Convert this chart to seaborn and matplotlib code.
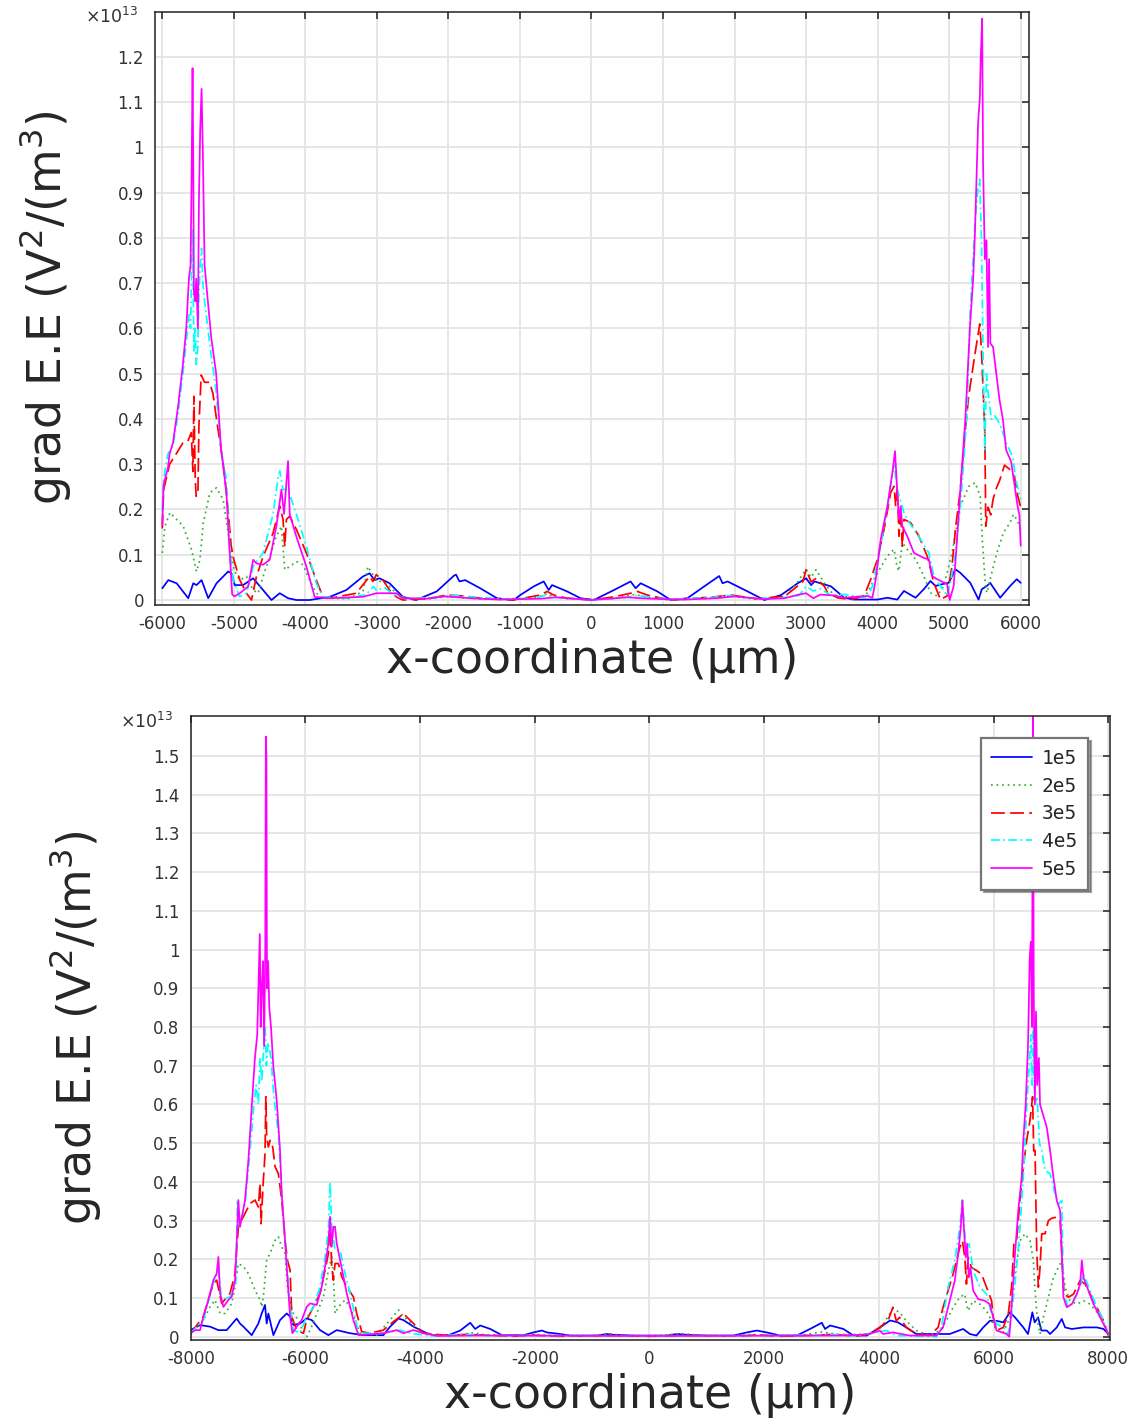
import matplotlib
matplotlib.use("Agg")
import matplotlib.pyplot as plt
import numpy as np
import seaborn as sns
from matplotlib.ticker import FuncFormatter, MultipleLocator, FixedLocator

# values in units of 1e13 V^2/m^3, x in um
labels = ["1e5", "2e5", "3e5", "4e5", "5e5"]
colors = ["#0000ff", "#33b033", "#ff0000", "#00ffff", "#ff00ff"]
styles = ["-", (0, (1, 2.2)), (0, (8, 3)), (0, (5, 2, 1, 2)), "-"]

# ---- top panel (domain -6000..6000) ----
top_1e5 = [(-6000, 0.026), (-5916, 0.044), (-5800, 0.037), (-5637, 0.004), (-5567, 0.037), (-5521, 0.033),
           (-5451, 0.044), (-5358, 0.004), (-5242, 0.037), (-5079, 0.063), (-5033, 0.059), (-4986, 0.033),
           (-4870, 0.033), (-4730, 0.048), (-4591, 0.022), (-4474, 0.0), (-4358, 0.015), (-4242, 0.004),
           (-4126, 0.0), (-3940, 0.0), (-3660, 0.007), (-3428, 0.022), (-3195, 0.052), (-3102, 0.059),
           (-3033, 0.044), (-2963, 0.048), (-2823, 0.037), (-2637, 0.007), (-2451, 0.0), (-2164, 0.019),
           (-1921, 0.054), (-1893, 0.056), (-1846, 0.041), (-1766, 0.044), (-1556, 0.026), (-1322, 0.004),
           (-1089, 0.0), (-995, 0.011), (-808, 0.03), (-668, 0.041), (-598, 0.022), (-551, 0.033),
           (-341, 0.019), (-154, 0.004), (33, 0.0), (313, 0.022), (547, 0.041), (617, 0.026), (687, 0.037),
           (921, 0.019), (1108, 0.0), (1341, 0.004), (1575, 0.03), (1785, 0.053), (1832, 0.037), (1902, 0.041),
           (2182, 0.019), (2416, 0.0), (2650, 0.011), (2883, 0.037), (3000, 0.048), (3070, 0.033),
           (3117, 0.041), (3350, 0.03), (3533, 0.005), (3672, 0.001), (3997, 0.001), (4136, 0.005),
           (4275, 0.001), (4368, 0.02), (4530, 0.005), (4646, 0.024), (4739, 0.042), (4809, 0.031),
           (4901, 0.035), (4994, 0.038), (5087, 0.068), (5156, 0.06), (5295, 0.038), (5411, 0.001),
           (5457, 0.024), (5527, 0.031), (5573, 0.038), (5713, 0.005), (5852, 0.031), (5945, 0.046),
           (6000, 0.038)]
top_2e5 = [(-6000, 0.104), (-5963, 0.163), (-5893, 0.193), (-5800, 0.178), (-5707, 0.163), (-5591, 0.111),
           (-5521, 0.063), (-5474, 0.089), (-5428, 0.17), (-5335, 0.237), (-5242, 0.248), (-5149, 0.222),
           (-5079, 0.148), (-5000, 0.067), (-4916, 0.044), (-4823, 0.052), (-4730, 0.022), (-4660, 0.015),
           (-4591, 0.052), (-4498, 0.096), (-4405, 0.141), (-4335, 0.163), (-4288, 0.067), (-4219, 0.074),
           (-4126, 0.085), (-4033, 0.078), (-3940, 0.044), (-3847, 0.015), (-3754, 0.004), (-3400, 0.003),
           (-3195, 0.019), (-3126, 0.074), (-3009, 0.044), (-2870, 0.037), (-2730, 0.015), (-2591, 0.004),
           (-2300, 0.002), (-2000, 0.008), (-1800, 0.005), (-1500, 0.002), (-800, 0.004), (-620, 0.014),
           (-500, 0.006), (-300, 0.002), (300, 0.003), (600, 0.012), (800, 0.006), (1100, 0.0), (1700, 0.004),
           (1950, 0.008), (2300, 0.002), (2700, 0.006), (2880, 0.04), (3000, 0.068), (3070, 0.05),
           (3140, 0.067), (3257, 0.037), (3394, 0.009), (3765, 0.005), (3858, 0.016), (3997, 0.06),
           (4136, 0.097), (4229, 0.112), (4275, 0.071), (4298, 0.064), (4345, 0.126), (4414, 0.112),
           (4530, 0.09), (4646, 0.053), (4739, 0.016), (4832, 0.009), (4925, 0.031), (5040, 0.104),
           (5156, 0.207), (5272, 0.251), (5365, 0.259), (5434, 0.229), (5457, 0.149), (5504, 0.038),
           (5527, 0.016), (5573, 0.046), (5666, 0.104), (5759, 0.149), (5852, 0.171), (5898, 0.189),
           (5945, 0.178), (6000, 0.156)]
top_3e5 = [(-6000, 0.158), (-5981, 0.244), (-5898, 0.30), (-5805, 0.323), (-5712, 0.347), (-5642, 0.351),
           (-5595, 0.37), (-5572, 0.284), (-5558, 0.45), (-5540, 0.268), (-5526, 0.229), (-5502, 0.237),
           (-5488, 0.386), (-5456, 0.497), (-5409, 0.481), (-5340, 0.481), (-5293, 0.457), (-5223, 0.379),
           (-5153, 0.308), (-5084, 0.205), (-5037, 0.12), (-5000, 0.089), (-4916, 0.044), (-4823, 0.015),
           (-4753, 0.0), (-4684, 0.052), (-4591, 0.096), (-4451, 0.148), (-4358, 0.207), (-4312, 0.178),
           (-4288, 0.118), (-4265, 0.178), (-4219, 0.185), (-4126, 0.156), (-3986, 0.104), (-3847, 0.044),
           (-3754, 0.007), (-3660, 0.004), (-3288, 0.015), (-3102, 0.052), (-3056, 0.041), (-3009, 0.056),
           (-2916, 0.044), (-2823, 0.022), (-2730, 0.007), (-2637, 0.0), (-2300, 0.003), (-2023, 0.011),
           (-1790, 0.009), (-1556, 0.004), (-1100, 0.0), (-715, 0.011), (-621, 0.019), (-528, 0.011),
           (-341, 0.004), (0, 0.0), (313, 0.007), (547, 0.015), (640, 0.019), (780, 0.011), (1100, 0.0),
           (1715, 0.007), (1949, 0.011), (2300, 0.003), (2700, 0.008), (2953, 0.04), (3000, 0.067),
           (3070, 0.04), (3140, 0.048), (3257, 0.03), (3301, 0.016), (3440, 0.005), (3626, 0.001),
           (3811, 0.009), (3904, 0.046), (3997, 0.09), (4090, 0.156), (4182, 0.237), (4229, 0.251),
           (4252, 0.207), (4275, 0.251), (4298, 0.141), (4322, 0.2), (4345, 0.119), (4368, 0.178),
           (4461, 0.171), (4577, 0.141), (4693, 0.097), (4786, 0.038), (4878, 0.001), (4971, 0.009),
           (5040, 0.075), (5087, 0.156), (5156, 0.244), (5226, 0.376), (5272, 0.45), (5359, 0.542),
           (5428, 0.61), (5452, 0.551), (5498, 0.374), (5512, 0.163), (5544, 0.205), (5581, 0.188),
           (5613, 0.222), (5659, 0.247), (5705, 0.264), (5774, 0.298), (5843, 0.289), (5913, 0.272),
           (5959, 0.23), (6000, 0.205)]
top_4e5 = [(-6000, 0.197), (-5981, 0.268), (-5921, 0.323), (-5851, 0.34), (-5781, 0.41), (-5712, 0.5),
           (-5665, 0.57), (-5628, 0.63), (-5605, 0.6), (-5591, 0.72), (-5577, 0.82), (-5558, 0.55),
           (-5540, 0.6), (-5526, 0.52), (-5502, 0.56), (-5488, 0.68), (-5470, 0.74), (-5451, 0.777),
           (-5433, 0.7), (-5409, 0.66), (-5363, 0.6), (-5316, 0.54), (-5247, 0.46), (-5177, 0.33),
           (-5107, 0.27), (-5060, 0.12), (-5014, 0.047), (-4921, 0.008), (-4823, 0.015), (-4730, 0.074),
           (-4591, 0.104), (-4451, 0.19), (-4382, 0.27), (-4358, 0.285), (-4312, 0.244), (-4242, 0.244),
           (-4126, 0.19), (-3986, 0.118), (-3847, 0.037), (-3754, 0.007), (-3400, 0.004), (-3150, 0.012),
           (-3050, 0.03), (-3000, 0.02), (-2900, 0.028), (-2750, 0.01), (-2600, 0.003), (-2200, 0.006),
           (-1900, 0.01), (-1600, 0.006), (-1200, 0.002), (-800, 0.004), (-650, 0.01), (-400, 0.004),
           (0, 0.0), (400, 0.004), (650, 0.01), (900, 0.004), (1200, 0.002), (1700, 0.006), (1900, 0.01),
           (2200, 0.005), (2600, 0.003), (2900, 0.01), (3000, 0.03), (3100, 0.02), (3200, 0.025),
           (3350, 0.01), (3533, 0.0125), (3858, 0.005), (3927, 0.031), (4043, 0.119), (4159, 0.229),
           (4229, 0.303), (4275, 0.244), (4368, 0.193), (4414, 0.178), (4507, 0.156), (4600, 0.134),
           (4716, 0.104), (4786, 0.053), (4878, 0.031), (4971, 0.009), (5017, 0.038), (5087, 0.104),
           (5156, 0.207), (5203, 0.303), (5249, 0.413), (5290, 0.626), (5359, 0.829), (5405, 0.913),
           (5428, 0.93), (5452, 0.795), (5474, 0.542), (5498, 0.331), (5521, 0.5), (5544, 0.458),
           (5590, 0.399), (5636, 0.407), (5705, 0.39), (5797, 0.348), (5889, 0.315), (5935, 0.264),
           (6000, 0.222)]
top_5e5 = [(-6000, 0.166), (-5981, 0.256), (-5921, 0.292), (-5898, 0.323), (-5851, 0.347), (-5781, 0.426),
           (-5712, 0.52), (-5665, 0.60), (-5628, 0.71), (-5605, 0.74), (-5591, 0.923), (-5577, 1.175),
           (-5567, 0.97), (-5558, 0.68), (-5540, 0.66), (-5526, 0.71), (-5502, 0.60), (-5488, 0.88),
           (-5470, 1.04), (-5451, 1.129), (-5433, 0.99), (-5409, 0.74), (-5363, 0.66), (-5316, 0.58),
           (-5247, 0.50), (-5177, 0.33), (-5107, 0.244), (-5060, 0.11), (-5023, 0.012), (-4991, 0.008),
           (-4916, 0.015), (-4800, 0.03), (-4730, 0.089), (-4684, 0.081), (-4591, 0.078), (-4498, 0.089),
           (-4405, 0.163), (-4335, 0.244), (-4298, 0.19), (-4242, 0.307), (-4219, 0.19), (-4126, 0.14),
           (-3986, 0.074), (-3870, 0.007), (-3660, 0.004), (-3195, 0.007), (-3009, 0.015), (-2730, 0.015),
           (-2637, 0.004), (-2300, 0.003), (-2050, 0.008), (-1700, 0.004), (-1300, 0.001), (-700, 0.003),
           (-500, 0.006), (0, 0.0), (500, 0.006), (800, 0.003), (1300, 0.001), (1750, 0.004), (2000, 0.008),
           (2400, 0.002), (2700, 0.004), (2900, 0.012), (3000, 0.015), (3100, 0.004), (3200, 0.012),
           (3400, 0.01), (3533, 0.005), (3858, 0.009), (3927, 0.005), (3974, 0.046), (4043, 0.134),
           (4136, 0.207), (4206, 0.281), (4243, 0.329), (4275, 0.237), (4298, 0.178), (4322, 0.207),
           (4345, 0.163), (4414, 0.141), (4507, 0.104), (4646, 0.093), (4716, 0.09), (4763, 0.053),
           (4832, 0.046), (4971, 0.035), (5008, 0.0), (5063, 0.031), (5110, 0.134), (5156, 0.244),
           (5226, 0.4), (5290, 0.601), (5336, 0.711), (5359, 0.804), (5382, 0.93), (5405, 1.056),
           (5428, 1.107), (5442, 1.2), (5461, 1.284), (5474, 0.964), (5498, 0.753), (5521, 0.795),
           (5544, 0.559), (5558, 0.753), (5576, 0.567), (5613, 0.559), (5659, 0.5), (5705, 0.441),
           (5751, 0.399), (5797, 0.331), (5866, 0.306), (5913, 0.255), (5959, 0.205), (5982, 0.188),
           (6000, 0.12)]

# ---- bottom panel (domain -8000..8000) ----
bot_1e5 = [(-8000, 0.017), (-7837, 0.03), (-7663, 0.026), (-7517, 0.017), (-7372, 0.017), (-7198, 0.047),
           (-7140, 0.034), (-7081, 0.026), (-6936, 0.004), (-6820, 0.034), (-6762, 0.06), (-6704, 0.082),
           (-6675, 0.034), (-6646, 0.06), (-6558, 0.004), (-6442, 0.043), (-6326, 0.06), (-6267, 0.052),
           (-6210, 0.03), (-6093, 0.034), (-5977, 0.047), (-5890, 0.043), (-5744, 0.017), (-5599, 0.004),
           (-5454, 0.017), (-5221, 0.009), (-4988, 0.004), (-4640, 0.004), (-4523, 0.026), (-4378, 0.047),
           (-4291, 0.043), (-4116, 0.026), (-3884, 0.009), (-3767, 0.004), (-3503, 0.004), (-3300, 0.016),
           (-3126, 0.036), (-3039, 0.02), (-2951, 0.029), (-2777, 0.02), (-2574, 0.004), (-2196, 0.004),
           (-2022, 0.011), (-1877, 0.016), (-1789, 0.011), (-1557, 0.007), (-1383, 0.003), (-918, 0.003),
           (-744, 0.007), (-627, 0.005), (-279, 0.003), (302, 0.003), (476, 0.007), (651, 0.005),
           (999, 0.003), (1464, 0.003), (1697, 0.011), (1871, 0.016), (2045, 0.011), (2278, 0.003),
           (2568, 0.003), (2800, 0.02), (3004, 0.036), (3062, 0.02), (3149, 0.029), (3381, 0.02),
           (3556, 0.003), (3788, 0.003), (4021, 0.024), (4195, 0.042), (4332, 0.037), (4478, 0.024),
           (4653, 0.007), (4944, 0.007), (5236, 0.007), (5469, 0.02), (5586, 0.007), (5702, 0.003),
           (5819, 0.024), (5935, 0.041), (6052, 0.041), (6169, 0.037), (6285, 0.063), (6373, 0.05),
           (6518, 0.024), (6600, 0.007), (6676, 0.063), (6717, 0.037), (6776, 0.05), (6834, 0.016),
           (6927, 0.016), (6985, 0.007), (7101, 0.024), (7189, 0.046), (7247, 0.024), (7364, 0.02),
           (7568, 0.024), (7801, 0.024), (7918, 0.02), (8000, 0.007)]
bot_2e5 = [(-8000, 0.004), (-7895, 0.026), (-7779, 0.043), (-7663, 0.077), (-7576, 0.095), (-7488, 0.06),
           (-7401, 0.06), (-7285, 0.086), (-7227, 0.129), (-7169, 0.189), (-7081, 0.181), (-6994, 0.163),
           (-6878, 0.12), (-6791, 0.095), (-6762, 0.077), (-6733, 0.103), (-6675, 0.198), (-6616, 0.215),
           (-6529, 0.249), (-6471, 0.258), (-6413, 0.232), (-6355, 0.215), (-6314, 0.129), (-6267, 0.086),
           (-6210, 0.06), (-6122, 0.043), (-6035, 0.009), (-5977, 0.0), (-5890, 0.026), (-5802, 0.06),
           (-5686, 0.103), (-5599, 0.172), (-5541, 0.206), (-5512, 0.155), (-5483, 0.06), (-5425, 0.077),
           (-5308, 0.095), (-5221, 0.077), (-5134, 0.043), (-5047, 0.009), (-4756, 0.004), (-4523, 0.043),
           (-4378, 0.069), (-4291, 0.052), (-4145, 0.034), (-4000, 0.013), (-3826, 0.004), (-3300, 0.005),
           (-3100, 0.01), (-2900, 0.006), (-2500, 0.002), (-2000, 0.006), (-1800, 0.004), (-1000, 0.003),
           (-700, 0.008), (-500, 0.004), (0, 0.002), (400, 0.006), (600, 0.008), (900, 0.003), (1500, 0.003),
           (1800, 0.006), (2100, 0.003), (2700, 0.005), (3000, 0.012), (3300, 0.006), (3800, 0.006),
           (4041, 0.024), (4187, 0.059), (4245, 0.072), (4361, 0.063), (4478, 0.041), (4653, 0.016),
           (4886, 0.003), (5061, 0.016), (5178, 0.041), (5294, 0.076), (5411, 0.102), (5498, 0.11),
           (5527, 0.084), (5556, 0.067), (5644, 0.093), (5761, 0.084), (5877, 0.067), (5965, 0.041),
           (6052, 0.016), (6169, 0.011), (6285, 0.05), (6373, 0.162), (6460, 0.248), (6548, 0.266),
           (6635, 0.248), (6694, 0.197), (6723, 0.119), (6764, 0.041), (6810, 0.007), (6869, 0.05),
           (6956, 0.102), (7043, 0.153), (7131, 0.179), (7189, 0.197), (7247, 0.128), (7334, 0.093),
           (7451, 0.084), (7568, 0.093), (7684, 0.084), (7830, 0.059), (7947, 0.024), (8000, 0.003)]
bot_3e5 = [(-8000, 0.009), (-7779, 0.052), (-7605, 0.138), (-7547, 0.146), (-7459, 0.086), (-7314, 0.112),
           (-7227, 0.163), (-7169, 0.284), (-7081, 0.31), (-6965, 0.344), (-6878, 0.353), (-6820, 0.335),
           (-6791, 0.396), (-6773, 0.292), (-6733, 0.404), (-6704, 0.473), (-6690, 0.62), (-6675, 0.516),
           (-6646, 0.49), (-6616, 0.507), (-6570, 0.49), (-6529, 0.439), (-6471, 0.421), (-6413, 0.353),
           (-6355, 0.249), (-6314, 0.198), (-6267, 0.172), (-6238, 0.052), (-6151, 0.017), (-6035, 0.009),
           (-5977, 0.043), (-5861, 0.077), (-5744, 0.112), (-5657, 0.172), (-5599, 0.215), (-5570, 0.301),
           (-5541, 0.181), (-5512, 0.146), (-5483, 0.189), (-5425, 0.189), (-5366, 0.155), (-5279, 0.129),
           (-5163, 0.103), (-5105, 0.06), (-5017, 0.013), (-4872, 0.009), (-4640, 0.017), (-4465, 0.039),
           (-4349, 0.052), (-4291, 0.06), (-4204, 0.047), (-4058, 0.026), (-3942, 0.009), (-3500, 0.003),
           (-3200, 0.006), (-2800, 0.004), (-2400, 0.001), (-2000, 0.004), (-1600, 0.001), (-700, 0.003),
           (0, 0.001), (600, 0.003), (1600, 0.002), (1900, 0.005), (2300, 0.001), (2900, 0.004),
           (3200, 0.006), (3600, 0.002), (3837, 0.007), (4012, 0.024), (4157, 0.041), (4245, 0.076),
           (4303, 0.041), (4361, 0.05), (4478, 0.024), (4653, 0.007), (4886, 0.003), (5032, 0.024),
           (5119, 0.076), (5207, 0.119), (5294, 0.162), (5411, 0.231), (5457, 0.248), (5498, 0.205),
           (5527, 0.136), (5556, 0.205), (5615, 0.179), (5702, 0.171), (5789, 0.162), (5877, 0.128),
           (5965, 0.093), (5994, 0.05), (6052, 0.016), (6169, 0.024), (6256, 0.059), (6314, 0.128),
           (6355, 0.24), (6402, 0.248), (6460, 0.352), (6518, 0.438), (6577, 0.507), (6635, 0.559),
           (6680, 0.62), (6700, 0.48), (6723, 0.481), (6752, 0.222), (6781, 0.128), (6810, 0.179),
           (6840, 0.266), (6898, 0.266), (6956, 0.3), (7014, 0.306), (7101, 0.309), (7160, 0.3),
           (7201, 0.179), (7230, 0.11), (7306, 0.102), (7393, 0.11), (7509, 0.145), (7597, 0.136),
           (7684, 0.11), (7801, 0.076), (7918, 0.041), (8000, 0.003)]
bot_4e5 = [(-8000, 0.009), (-7779, 0.043), (-7605, 0.138), (-7517, 0.172), (-7459, 0.095), (-7314, 0.103),
           (-7209, 0.146), (-7186, 0.353), (-7151, 0.284), (-7052, 0.344), (-6965, 0.481), (-6907, 0.585),
           (-6860, 0.65), (-6820, 0.6), (-6790, 0.72), (-6760, 0.66), (-6730, 0.74), (-6700, 0.8),
           (-6680, 0.7), (-6650, 0.76), (-6600, 0.72), (-6550, 0.62), (-6471, 0.524), (-6413, 0.37),
           (-6355, 0.249), (-6279, 0.095), (-6210, 0.017), (-6093, 0.009), (-5977, 0.052), (-5861, 0.077),
           (-5744, 0.129), (-5657, 0.206), (-5599, 0.275), (-5570, 0.40), (-5541, 0.284), (-5483, 0.224),
           (-5395, 0.224), (-5308, 0.163), (-5221, 0.112), (-5134, 0.052), (-5076, 0.009), (-4640, 0.009),
           (-4349, 0.017), (-4174, 0.009), (-3800, 0.002), (-3100, 0.006), (-2800, 0.003), (-2000, 0.003),
           (0, 0.002), (2000, 0.003), (2900, 0.004), (3200, 0.006), (3600, 0.002), (3953, 0.011),
           (4128, 0.016), (4303, 0.003), (5003, 0.0), (5090, 0.024), (5207, 0.128), (5323, 0.197),
           (5411, 0.283), (5457, 0.353), (5498, 0.266), (5527, 0.231), (5574, 0.24), (5644, 0.171),
           (5761, 0.128), (5877, 0.11), (5965, 0.059), (6052, 0.033), (6169, 0.024), (6256, 0.007),
           (6314, 0.059), (6402, 0.179), (6460, 0.283), (6518, 0.412), (6580, 0.6), (6620, 0.7),
           (6650, 0.78), (6670, 0.65), (6690, 0.8), (6720, 0.6), (6760, 0.62), (6800, 0.5), (6840, 0.481),
           (6898, 0.429), (6985, 0.421), (7055, 0.378), (7131, 0.343), (7189, 0.352), (7218, 0.11),
           (7306, 0.076), (7393, 0.093), (7509, 0.128), (7568, 0.162), (7684, 0.119), (7801, 0.076),
           (7918, 0.041), (8000, 0.007)]
bot_5e5 = [(-8000, 0.009), (-7924, 0.017), (-7837, 0.017), (-7779, 0.052), (-7692, 0.095), (-7605, 0.146),
           (-7547, 0.163), (-7517, 0.206), (-7488, 0.112), (-7430, 0.077), (-7343, 0.095), (-7285, 0.103),
           (-7227, 0.146), (-7186, 0.284), (-7169, 0.353), (-7140, 0.284), (-7052, 0.353), (-6994, 0.456),
           (-6936, 0.593), (-6880, 0.72), (-6840, 0.78), (-6810, 0.95), (-6795, 1.04), (-6780, 0.8),
           (-6760, 0.9), (-6740, 0.97), (-6720, 0.75), (-6700, 1.0), (-6690, 1.55), (-6680, 1.5),
           (-6670, 0.9), (-6650, 0.97), (-6630, 0.85), (-6600, 0.8), (-6560, 0.7), (-6500, 0.61),
           (-6442, 0.48), (-6413, 0.37), (-6355, 0.249), (-6326, 0.181), (-6267, 0.052), (-6227, 0.009),
           (-6151, 0.026), (-6064, 0.043), (-5977, 0.077), (-5919, 0.086), (-5802, 0.082), (-5715, 0.129),
           (-5657, 0.181), (-5599, 0.241), (-5570, 0.31), (-5541, 0.232), (-5512, 0.284), (-5483, 0.284),
           (-5454, 0.241), (-5395, 0.198), (-5279, 0.112), (-5163, 0.043), (-5076, 0.004), (-4640, 0.009),
           (-4407, 0.017), (-4291, 0.009), (-4116, 0.017), (-3942, 0.009), (-3700, 0.002), (-3000, 0.003),
           (0, 0.002), (3000, 0.003), (3487, 0.003), (3837, 0.007), (4017, 0.016), (4070, 0.007),
           (4245, 0.011), (4536, 0.003), (5003, 0.003), (5119, 0.024), (5236, 0.093), (5323, 0.145),
           (5382, 0.214), (5428, 0.283), (5457, 0.352), (5481, 0.283), (5516, 0.205), (5539, 0.24),
           (5568, 0.153), (5597, 0.179), (5644, 0.119), (5731, 0.097), (5848, 0.093), (5935, 0.084),
           (5994, 0.05), (6052, 0.016), (6227, 0.007), (6274, 0.0), (6314, 0.076), (6373, 0.214),
           (6431, 0.326), (6490, 0.412), (6518, 0.507), (6560, 0.6), (6600, 0.75), (6630, 0.98),
           (6650, 1.02), (6670, 0.8), (6687, 1.7), (6700, 0.9), (6720, 0.6), (6740, 0.84), (6760, 0.65),
           (6790, 0.72), (6810, 0.6), (6850, 0.58), (6927, 0.541), (6985, 0.481), (7043, 0.412),
           (7101, 0.352), (7160, 0.326), (7189, 0.222), (7218, 0.102), (7276, 0.076), (7364, 0.084),
           (7451, 0.11), (7509, 0.136), (7539, 0.197), (7568, 0.153), (7655, 0.119), (7743, 0.084),
           (7859, 0.05), (7947, 0.024), (8000, 0.007)]

top_series = [top_1e5, top_2e5, top_3e5, top_4e5, top_5e5]
bot_series = [bot_1e5, bot_2e5, bot_3e5, bot_4e5, bot_5e5]
top_yticks = [i / 10 for i in range(13)]
bot_yticks = [i / 10 for i in range(16)]

sns.set_style("white")
plt.rcParams['font.family'] = ['DejaVu Sans']
plt.rcParams['axes.unicode_minus'] = False
plt.rcParams['mathtext.fontset'] = 'dejavusans'

W, H = 1135, 1426
fig = plt.figure(figsize=(W / 100, H / 100), dpi=100)


def px_axes(left, top, right, bottom):
    return fig.add_axes([left / W, 1 - bottom / H, (right - left) / W, (bottom - top) / H])


def style_axes(ax, xlim, ylim, xstep, yticks):
    ax.set_xlim(*xlim)
    ax.set_ylim(*ylim)
    ax.xaxis.set_major_locator(MultipleLocator(xstep))
    ax.yaxis.set_major_locator(FixedLocator(yticks))
    ax.yaxis.set_major_formatter(FuncFormatter(lambda v, p: f"{round(v, 1):g}"))
    ax.xaxis.set_major_formatter(FuncFormatter(lambda v, p: f"{int(round(v))}"))
    ax.grid(True, color="#e4e4e4", lw=1.3)
    ax.set_axisbelow(True)
    ax.tick_params(direction="in", top=True, right=True, length=5, width=1.1,
                   labelsize=12, labelcolor="#333333", color="#222222")
    ax.tick_params(axis="x", pad=7)
    ax.tick_params(axis="y", pad=8)
    for s in ax.spines.values():
        s.set_color("#222222")
        s.set_linewidth(1.1)
    ax.set_xlabel("")
    ax.set_ylabel("")


def draw(ax, series):
    for data, lab, c, ls in zip(series, labels, colors, styles):
        arr = np.array(data)
        sns.lineplot(x=arr[:, 0], y=arr[:, 1], ax=ax, color=c, linestyle=ls, linewidth=1.25,
                     estimator=None, sort=False, label=lab, legend=False)


ax1 = px_axes(155, 12, 1029, 605)
draw(ax1, top_series)
style_axes(ax1, (-6102, 6116), (-0.011, 1.299), 1000, top_yticks)

ax2 = px_axes(190.7, 715.7, 1110, 1340)
draw(ax2, bot_series)
style_axes(ax2, (-8000, 8030), (-0.0085, 1.604), 2000, bot_yticks)

ylab = "grad E.E (V$^{2}$/(m$^{3}$)"
xlab = "x-coordinate (\u03bcm)"
fig.text(592 / W, 1 - 660 / H, xlab, ha="center", va="center", fontsize=33)
fig.text(45 / W, 1 - 308 / H, ylab, ha="center", va="center", rotation=90, fontsize=33)
fig.text(650 / W, 1 - 1395 / H, xlab, ha="center", va="center", fontsize=33)
fig.text(75 / W, 1 - 1028 / H, ylab, ha="center", va="center", rotation=90, fontsize=33)

fig.text(138 / W, 1 - 17 / H, "\u00d710$^{13}$", ha="right", va="center", fontsize=12.5, color="#333333")
fig.text(173 / W, 1 - 722 / H, "\u00d710$^{13}$", ha="right", va="center", fontsize=12.5, color="#333333")

leg = ax2.legend(handles=ax2.get_lines()[:5], labels=labels, loc="upper right",
                 bbox_to_anchor=(0.976, 0.964), borderaxespad=0, fancybox=False, shadow=True,
                 prop={"family": "DejaVu Sans Mono", "size": 14}, handlelength=2.1,
                 handletextpad=0.5, labelspacing=0.45, borderpad=0.55, framealpha=1)
leg.get_frame().set_edgecolor("#777777")
leg.get_frame().set_linewidth(1.6)

fig.savefig("out.png", dpi=100)
